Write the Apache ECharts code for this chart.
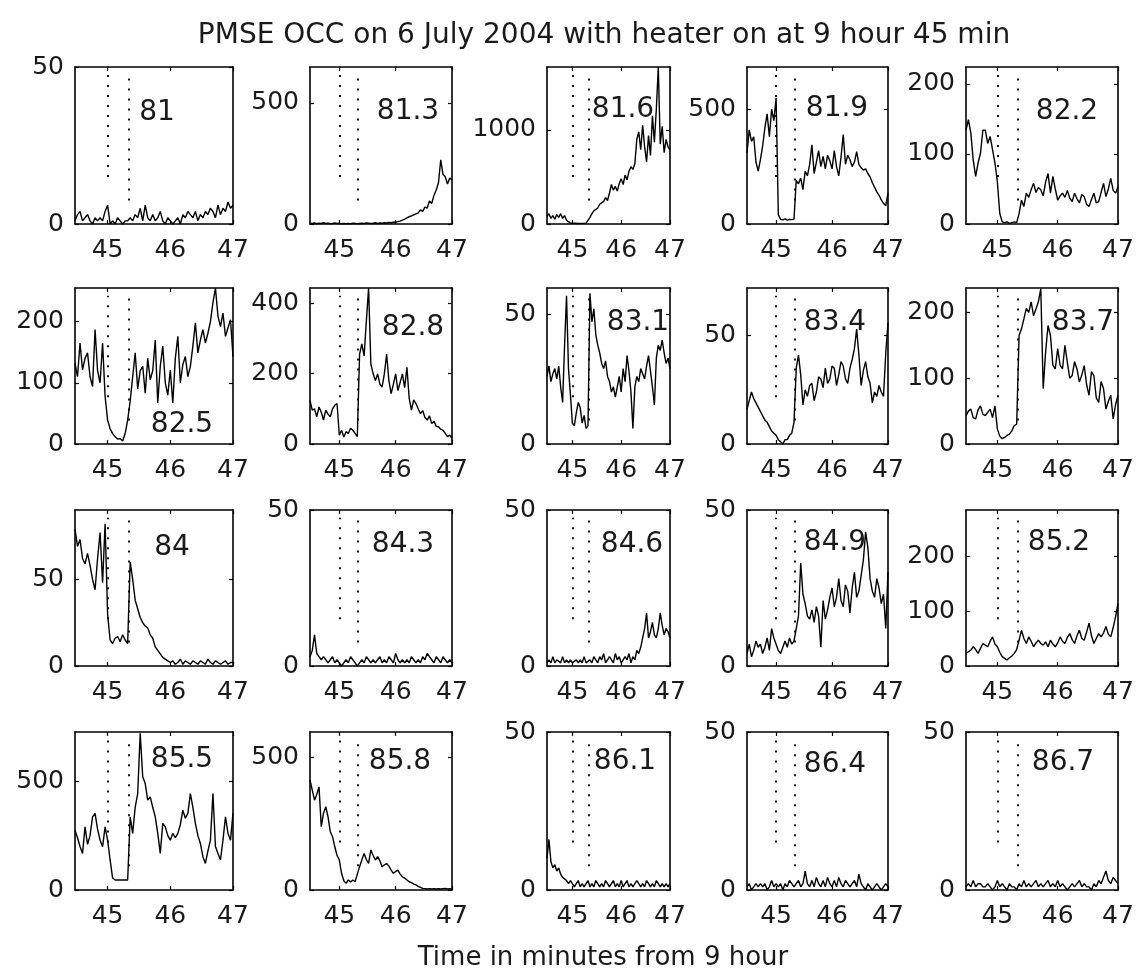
<!DOCTYPE html>
<html><head><meta charset="utf-8">
<script src="https://cdn.jsdelivr.net/npm/echarts@6/dist/echarts.min.js"></script>
<style>html,body{margin:0;padding:0;background:#fff}#c{width:1137px;height:973px}</style>
</head><body><div id="c"></div>
<script>
// time in minutes after 9 hour
const times = [44.48,44.52,44.56,44.60,44.64,44.68,44.72,44.76,
44.80,44.84,44.88,44.92,44.96,45.00,45.04,45.08,
45.12,45.16,45.20,45.24,45.28,45.32,45.36,45.40,
45.44,45.48,45.52,45.56,45.60,45.64,45.68,45.72,
45.76,45.80,45.84,45.88,45.92,45.96,46.00,46.04,
46.08,46.12,46.16,46.20,46.24,46.28,46.32,46.36,
46.40,46.44,46.48,46.52,46.56,46.60,46.64,46.68,
46.72,46.76,46.80,46.84,46.88,46.92,46.96,47.00];

const heights = ['81','81.3','81.6','81.9','82.2','82.5','82.8','83.1','83.4','83.7',
'84','84.3','84.6','84.9','85.2','85.5','85.8','86.1','86.4','86.7'];

const p81 = [1,3,4,1,2,3,1,0, 2,1,2,1,4,6,0,1, 0,2,1,0,1,1,2,1, 3,2,5,1,6,2,1,3,
1,2,4,1,0,2,1,0, 1,2,0,3,2,4,3,2, 4,1,3,2,4,3,5,4, 2,6,3,5,4,7,5,6];
const p81_3 = [3,2,4,1,3,2,5,2, 3,1,2,4,2,3,1,2, 1,2,1,3,2,1,2,3, 2,4,3,2,3,5,2,4,
3,5,4,6,5,7,8,10, 12,16,20,25,30,33,38,42, 46,58,52,70,66,95,85,118, 140,170,265,205,195,165,190,182];
const p81_6 = [80,110,60,90,50,100,70,110, 60,90,40,20,10,5,8,4, 6,3,7,5,9,30,70,110,
140,130,170,210,190,240,280,250, 330,420,360,400,350,430,480,420, 520,470,560,610,580,640,900,980,
790,1050,820,660,940,730,1150,870, 1220,1670,850,1040,760,900,820,790];
const p81_9 = [310,410,360,380,270,230,280,340, 420,480,380,500,450,550,40,20, 18,22,17,20,19,21,190,175,
200,150,230,210,260,345,220,270, 320,250,295,240,300,275,240,320, 250,210,290,390,260,300,280,250,
270,315,260,245,235,240,220,205, 180,160,140,125,105,90,80,135];
const p82_2 = [134,149,130,91,68,87,101,134, 134,115,125,106,87,60,15,3, 2,3,1,2,3,2,15,34,
25,44,38,49,58,45,52,49, 40,60,72,44,68,50,34,40, 44,38,48,37,32,44,36,30,
42,39,28,25,35,44,30,32, 45,58,39,50,65,48,44,53];
const p82_5 = [132,110,165,121,140,149,110,94, 187,120,100,165,78,39,25,17, 12,8,9,5,17,39,70,110,
149,90,120,127,83,140,105,120, 170,67,127,160,100,80,121,67, 140,176,100,130,143,110,127,160,
198,149,170,187,165,181,200,231, 255,209,192,214,176,190,203,143];
const p82_8 = [124,96,100,77,105,90,68,96, 85,77,100,110,115,25,39,20, 35,30,45,39,30,21,255,284,
250,349,443,227,200,180,199,170, 162,200,255,180,143,170,199,152, 175,199,160,218,130,96,125,115,
100,86,95,75,68,80,58,65, 50,49,42,39,30,21,25,16];
const p83_1 = [26,30,24,27,29,25,30,22, 16,38,57,29,19,8,7,12, 16,14,8,11,6,7,58,47,
52,42,38,35,31,29,32,26, 24,20,22,18,22,26,20,29, 24,34,28,20,6,22,26,24,
29,27,25,30,34,28,22,15, 33,38,36,40,35,31,33,29];
const p83_4 = [16,20,24,21,19,17,15,13, 11,10,8,6,5,4,2,1, 0,2,2,4,5,10,35,41,
32,18,25,22,27,28,20,24, 31,30,26,35,28,30,36,35, 27,32,38,36,30,28,35,39,
44,53,41,27,34,38,31,28, 19,24,22,27,24,22,42,56];
const p83_7 = [43,50,53,40,38,52,58,45, 43,48,53,40,58,23,12,8, 10,13,15,20,28,30,165,175,
190,206,200,216,195,205,216,236, 84,140,180,165,120,114,145,120, 114,150,124,100,104,125,114,94,
105,119,90,74,110,104,70,63, 95,84,53,65,74,38,60,74];
const p84 = [79,69,73,62,59,65,58,50, 44,62,77,48,82,30,15,13, 16,17,14,18,15,13,60,50,
38,33,28,25,23,22,18,16, 11,9,7,5,4,3,2,3, 1,2,4,1,3,2,1,3,
2,1,3,2,1,4,2,1, 3,2,1,2,3,1,2,2];
const p84_3 = [3,5,10,4,3,2,3,2, 1,2,3,1,2,1,0,1, 2,1,3,2,1,0,1,2, 1,3,2,1,2,1,2,3,
1,2,1,3,2,1,4,2, 1,2,1,2,1,3,2,1, 2,1,3,2,4,3,2,1, 3,2,1,3,2,1,2,1];
const p84_6 = [1,2,1,3,1,2,2,1, 3,1,2,1,2,1,1,2, 1,2,1,3,1,1,2,1, 3,2,1,3,2,4,1,2,
3,2,1,4,2,3,1,2, 3,2,4,1,3,2,5,4, 6,9,12,17,9,11,14,10, 9,12,17,13,10,12,11,9];
const p84_9 = [4,7,3,5,8,6,7,4, 6,9,5,12,9,7,5,4, 6,8,6,9,7,8,12,16, 33,23,20,16,15,18,14,19,
16,6,21,15,18,22,25,19, 22,28,21,19,26,24,17,25, 30,22,24,29,34,43,38,28, 24,22,28,25,20,23,12,30];
const p85_2 = [23,26,29,35,30,23,32,41, 38,35,45,53,40,35,25,17, 14,11,15,18,23,30,47,65,
50,41,53,45,35,42,47,41, 38,44,35,47,40,35,42,53, 45,41,52,59,48,41,55,65,
50,47,62,78,55,41,50,59, 53,60,72,58,53,70,90,114];
const p85_5 = [275,240,200,168,290,210,250,336, 352,280,229,199,290,229,138,55, 46,46,46,46,46,46,336,260,
380,443,720,520,489,413,428,380, 336,260,168,306,290,250,229,260, 240,260,300,367,330,352,443,380,
306,250,214,153,122,180,229,443, 200,168,138,229,336,260,229,352];
const p85_8 = [415,377,339,360,389,239,290,314, 276,220,201,163,130,113,63,35, 25,38,30,38,31,60,88,113,
138,115,100,151,130,113,126,110, 88,95,100,90,75,63,70,75, 60,50,45,38,31,28,22,19,
14,10,6,5,4,5,4,5, 4,5,4,5,6,4,5,4];
const p86_1 = [10,16,9,7,8,6,7,5, 4,4,3,2,3,2,1,2, 3,1,2,1,2,3,1,2, 1,3,2,1,2,1,3,2,
1,2,3,1,2,1,3,1, 2,3,1,2,1,2,3,2, 1,2,1,3,2,1,2,1, 3,2,1,2,1,2,1,2];
const p86_4 = [1,2,0,1,2,1,2,1, 2,0,1,3,1,2,1,2, 0,2,1,3,2,1,2,3, 1,2,6,2,1,3,1,4,
2,1,3,1,4,2,1,3, 1,4,2,1,3,2,1,2, 3,1,5,2,1,0,2,1, 0,1,2,1,0,1,2,1];
const p86_7 = [1,2,1,3,1,2,2,1, 1,2,1,0,1,3,1,2, 1,0,2,1,1,0,2,1, 3,1,2,1,2,3,1,2,
1,2,3,1,2,1,3,1, 2,1,0,1,2,1,2,3, 1,2,1,1,0,2,1,3, 2,4,6,3,2,4,3,2];

const panels = [p81,p81_3,p81_6,p81_9,p82_2,p82_5,p82_8,p83_1,p83_4,p83_7,
p84,p84_3,p84_6,p84_9,p85_2,p85_5,p85_8,p86_1,p86_4,p86_7];

const yMax = [50,648,1670,684,224, 255,443,60,72,237, 90,50,50,50,284, 726,596,50,50,50];
const yTicks = [[0,50],[0,500],[0,1000],[0,500],[0,100,200],
[0,100,200],[0,200,400],[0,50],[0,50],[0,100,200],
[0,50],[0,50],[0,50],[0,50],[0,100,200],
[0,500],[0,500],[0,50],[0,50],[0,50]];
const xTicks = [45,46,47];
const xMin = 44.48, xMax = 47;
const heaterTimes = [45.0, 45.333];

const titleText = 'PMSE OCC on 6 July 2004 with heater on at 9 hour 45 min';
const xLabelText = 'Time in minutes from 9 hour';

// layout (pixels)
const colLeft = [75,310,547,747,966];
const colRight = [233,452,670,888,1118];
const rowTop = [67,288,510,732];
const rowBottom = [224,444,666,890];
const labelPos = [[157,113],[408,112],[623,110],[837,109],[1067,112],
[182,425],[413,328],[638,323],[835,323],[1083,323],
[172,548],[403,545],[632,545],[835,543],[1059,543],
[182,760],[400,762],[625,762],[835,765],[1063,763]];
const dotLow = [0.3, 0.15], dotHigh = 0.95;

const FONT = '"DejaVu Sans", sans-serif';
const TXT = '#1a1a1a';
const plain = v => String(v);
const chart = echarts.init(document.getElementById('c'), null, {renderer:'canvas'});
const grids=[], xAxes=[], yAxes=[], series=[], graphics=[];
for (let k=0;k<20;k++){
  const r=Math.floor(k/5), c=k%5;
  grids.push({left:colLeft[c], top:rowTop[r], width:colRight[c]-colLeft[c], height:rowBottom[r]-rowTop[r], show:false});
  const axisLine={show:true,onZero:false,lineStyle:{color:'#000',width:1.6}};
  const tick = (vals)=>({show:true,inside:true,length:4,lineStyle:{color:'#000',width:1.2},customValues:vals});
  xAxes.push({type:'value',gridIndex:k,position:'bottom',min:xMin,max:xMax,axisLine,
    axisTick:tick(xTicks),
    axisLabel:{show:true,customValues:xTicks,formatter:plain,fontFamily:FONT,fontSize:25,color:TXT,margin:14},
    splitLine:{show:false}});
  xAxes.push({type:'value',gridIndex:k,position:'top',min:xMin,max:xMax,axisLine,
    axisTick:tick(xTicks),axisLabel:{show:false},splitLine:{show:false}});
  yAxes.push({type:'value',gridIndex:k,position:'left',min:0,max:yMax[k],axisLine,
    axisTick:tick(yTicks[k]),
    axisLabel:{show:true,customValues:yTicks[k],formatter:plain,fontFamily:FONT,fontSize:25,color:TXT,margin:11},
    splitLine:{show:false}});
  yAxes.push({type:'value',gridIndex:k,position:'right',min:0,max:yMax[k],axisLine,
    axisTick:tick(yTicks[k]),axisLabel:{show:false},splitLine:{show:false}});
  series.push({type:'line',xAxisIndex:2*k,yAxisIndex:2*k,
    data: times.map((t,i)=>[t,panels[k][i]]),
    showSymbol:false,symbol:'none',clip:true,
    lineStyle:{color:'#000',width:1.4},
    markLine:{silent:true,symbol:['none','none'],label:{show:false},
      lineStyle:{type:[2,8],color:'#000',width:1.8},
      data: heaterTimes.map((h,j)=>[{coord:[h,yMax[k]*dotLow[j]]},{coord:[h,yMax[k]*dotHigh]}])}
  });
  graphics.push({type:'text',x:labelPos[k][0],y:labelPos[k][1],
    style:{text:heights[k],font:'28px "DejaVu Sans"',fill:TXT,textAlign:'center',textVerticalAlign:'middle',align:'center',verticalAlign:'middle'}});
}
graphics.push({type:'text',x:604,y:36,style:{text:titleText,font:'28px "DejaVu Sans"',fill:TXT,textAlign:'center',textVerticalAlign:'middle',align:'center',verticalAlign:'middle'}});
graphics.push({type:'text',x:603,y:958,style:{text:xLabelText,font:'26px "DejaVu Sans"',fill:TXT,textAlign:'center',textVerticalAlign:'middle',align:'center',verticalAlign:'middle'}});

chart.setOption({animation:false,backgroundColor:'#fff',grid:grids,xAxis:xAxes,yAxis:yAxes,series,graphic:graphics});
</script></body></html>
